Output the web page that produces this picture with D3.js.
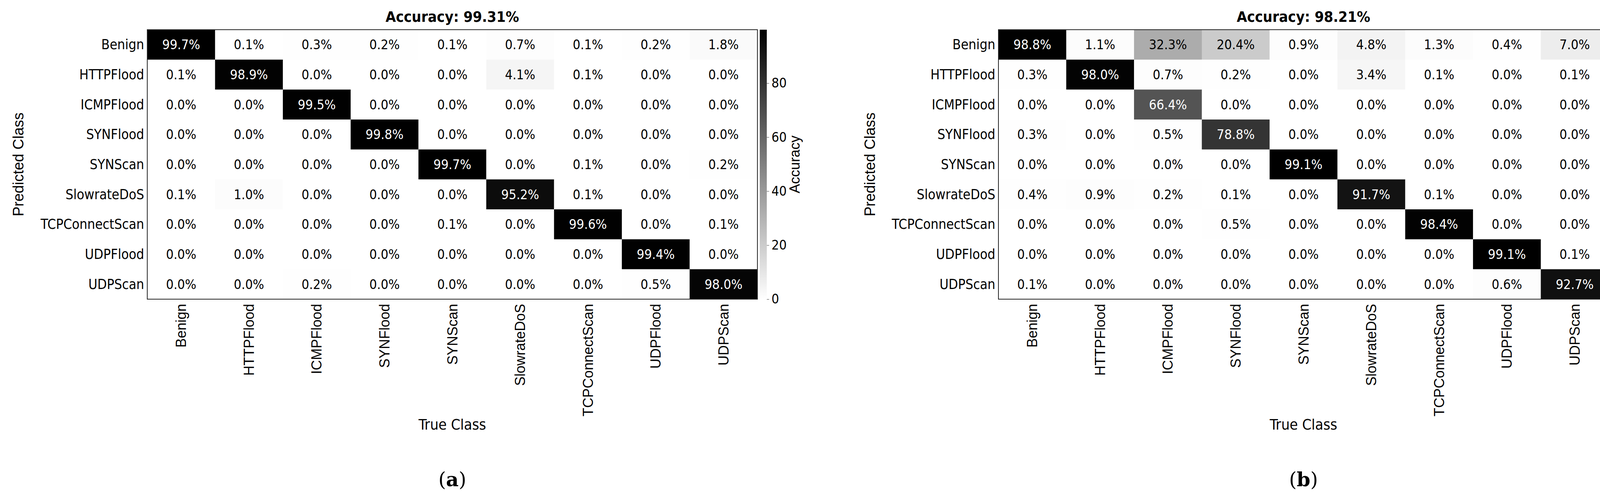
<!DOCTYPE html>
<html><head><meta charset="utf-8">
<script src="https://cdn.jsdelivr.net/npm/d3@7"></script>
<style>body{margin:0;background:#fff}</style></head>
<body><svg id="c" width="4270" height="1270"></svg>
<script>
const classes = ["Benign","HTTPFlood","ICMPFlood","SYNFlood","SYNScan","SlowrateDoS","TCPConnectScan","UDPFlood","UDPScan"];
const matrixA = [
 [99.7,0.1,0.3,0.2,0.1,0.7,0.1,0.2,1.8],
 [0.1,98.9,0.0,0.0,0.0,4.1,0.1,0.0,0.0],
 [0.0,0.0,99.5,0.0,0.0,0.0,0.0,0.0,0.0],
 [0.0,0.0,0.0,99.8,0.0,0.0,0.0,0.0,0.0],
 [0.0,0.0,0.0,0.0,99.7,0.0,0.1,0.0,0.2],
 [0.1,1.0,0.0,0.0,0.0,95.2,0.1,0.0,0.0],
 [0.0,0.0,0.0,0.0,0.1,0.0,99.6,0.0,0.1],
 [0.0,0.0,0.0,0.0,0.0,0.0,0.0,99.4,0.0],
 [0.0,0.0,0.2,0.0,0.0,0.0,0.0,0.5,98.0]];
const matrixB = [
 [98.8,1.1,32.3,20.4,0.9,4.8,1.3,0.4,7.0],
 [0.3,98.0,0.7,0.2,0.0,3.4,0.1,0.0,0.1],
 [0.0,0.0,66.4,0.0,0.0,0.0,0.0,0.0,0.0],
 [0.3,0.0,0.5,78.8,0.0,0.0,0.0,0.0,0.0],
 [0.0,0.0,0.0,0.0,99.1,0.0,0.0,0.0,0.0],
 [0.4,0.9,0.2,0.1,0.0,91.7,0.1,0.0,0.0],
 [0.0,0.0,0.0,0.5,0.0,0.0,98.4,0.0,0.0],
 [0.0,0.0,0.0,0.0,0.0,0.0,0.0,99.1,0.1],
 [0.1,0.0,0.0,0.0,0.0,0.0,0.0,0.6,92.7]];
const titles = ["Accuracy: 99.31%","Accuracy: 98.21%"];
const panelLabels = ["a","b"];
const cbTicks = [0,20,40,60,80];

const svg = d3.select("#c");
const narrow = "'DejaVu Sans Condensed','Liberation Sans',sans-serif";
const reg = "'Liberation Sans',Arial,sans-serif";

function panel(m, title, lab, x0, ylabX){
  const W=1562, H=690, top=76;
  const g = svg.append("g").attr("transform",`translate(${x0},${top})`);
  const x = d3.scaleBand().domain(classes).range([0,W]);
  const y = d3.scaleBand().domain(classes).range([0,H]);
  const vmax = d3.max(m.flat());
  const col = d3.scaleLinear().domain([0,vmax]).range(["#ffffff","#000000"]);
  const cells=[];
  m.forEach((r,i)=>r.forEach((v,j)=>cells.push({r:classes[i],c:classes[j],v})));
  g.selectAll("rect.cell").data(cells).join("rect")
   .attr("x",d=>x(d.c)).attr("y",d=>y(d.r)).attr("width",x.bandwidth()+0.5).attr("height",y.bandwidth()+0.5)
   .attr("fill",d=>col(d.v));
  g.selectAll("text.v").data(cells).join("text")
   .attr("x",d=>x(d.c)+x.bandwidth()/2).attr("y",d=>y(d.r)+y.bandwidth()/2)
   .attr("text-anchor","middle").attr("dominant-baseline","central")
   .attr("font-family",narrow).attr("font-size",34)
   .attr("fill",d=>d.v>50?"#fff":"#000").text(d=>d.v.toFixed(1)+"%");
  g.append("rect").attr("width",W).attr("height",H).attr("fill","none").attr("stroke","#262626").attr("stroke-width",2);
  g.selectAll("text.yl").data(classes).join("text")
   .attr("x",-8).attr("y",d=>y(d)+y.bandwidth()/2).attr("text-anchor","end").attr("dominant-baseline","central")
   .attr("font-family",narrow).attr("font-size",35).text(d=>d);
  g.selectAll("text.xl").data(classes).join("text")
   .attr("transform",d=>`translate(${x(d)+x.bandwidth()/2},${H+12}) rotate(-90)`)
   .attr("text-anchor","end").attr("dominant-baseline","central")
   .attr("font-family",reg).attr("font-size",36).text(d=>d);
  g.append("text").attr("x",W/2).attr("y",-20).attr("text-anchor","middle")
   .attr("font-family",narrow).attr("font-weight","bold").attr("font-size",38).text(title);
  g.append("text").attr("x",W/2).attr("y",1100-top).attr("text-anchor","middle")
   .attr("font-family",narrow).attr("font-size",38).text("True Class");
  g.append("text").attr("transform",`translate(${ylabX-x0},${H/2}) rotate(-90)`)
   .attr("text-anchor","middle").attr("font-family",reg).attr("font-size",38).text("Predicted Class");
  g.append("text").attr("x",W/2).attr("y",1245-top).attr("text-anchor","middle")
   .attr("font-family","'DejaVu Serif','Liberation Serif',serif").attr("font-size",50)
   .html(`(<tspan font-weight="bold">${lab}</tspan>)`);
  const cbx = W+6, cbw=18;
  const cy = d3.scaleLinear().domain([0,vmax]).range([H,0]);
  const defs = svg.append("defs");
  const gid = "grad"+lab;
  const gr = defs.append("linearGradient").attr("id",gid).attr("x1",0).attr("y1",1).attr("x2",0).attr("y2",0);
  gr.append("stop").attr("offset","0%").attr("stop-color",col(0));
  gr.append("stop").attr("offset","100%").attr("stop-color",col(vmax));
  g.append("rect").attr("x",cbx).attr("y",0).attr("width",cbw).attr("height",H).attr("fill",`url(#${gid})`);
  const ax = g.append("g").attr("transform",`translate(${cbx+cbw},0)`)
   .call(d3.axisRight(cy).tickValues(cbTicks).tickSize(6).tickPadding(6));
  ax.select(".domain").remove();
  ax.selectAll("text").attr("font-family",narrow).attr("font-size",34);
  ax.selectAll("line").attr("stroke","#444");
  g.append("text").attr("transform",`translate(${cbx+cbw+84},${H/2}) rotate(-90)`)
   .attr("text-anchor","middle").attr("font-family",reg).attr("font-size",36).text("Accuracy");
}
panel(matrixA,titles[0],panelLabels[0],377,60);
panel(matrixB,titles[1],panelLabels[1],2556,2240);
</script></body></html>
